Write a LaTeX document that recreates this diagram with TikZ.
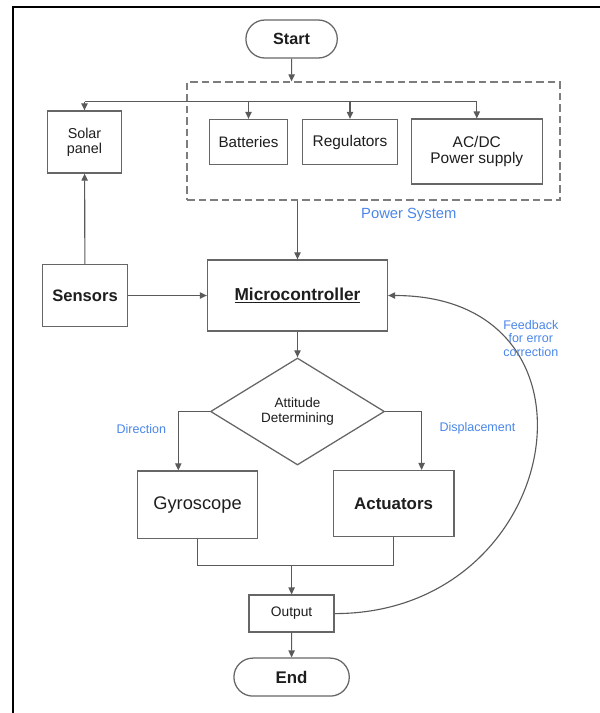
\documentclass[tikz,border=0pt]{standalone}
\usepackage{fontspec}
\setmainfont{Liberation Sans}
\usetikzlibrary{positioning}
\usetikzlibrary{arrows.meta}
\usetikzlibrary{shapes.geometric}
\usetikzlibrary{shapes.misc}

\definecolor{boxgray}{HTML}{666666}
\definecolor{linegray}{HTML}{5A5A5A}
\definecolor{labelblue}{HTML}{4A86E8}
\definecolor{textdark}{HTML}{1E1E1E}

\newcommand{\fs}[1]{\fontsize{#1}{1.05\dimexpr#1pt\relax}\selectfont}

\begin{document}
\begin{tikzpicture}[
            > = {Triangle[length=5pt,width=4.5pt]}, % arrow head style
            node distance = 2.5cm, % distance between nodes
            text = textdark
        ]

        \tikzstyle{block}=[
            draw = boxgray,
            line width = 0.9pt,
            fill = white,
            align = center,
            inner sep = 2pt
        ]
        \tikzstyle{term}=[block, rounded rectangle]
        \tikzstyle{decision}=[block, diamond, shape aspect=1.6, inner sep=0pt]
        \tikzstyle{line}=[draw = linegray, line width = 0.8pt]
        \tikzstyle{lbl}=[text = labelblue, align = center, font = \fs{8.9}]

        \useasboundingbox (0,0) rectangle (15,-17.825);

        % frame
        \draw[black, line width=1.1pt] (0.33,-17.825) -- (0.33,-0.17) -- (15,-0.17);

	% start
        \node[term, minimum width=2.425cm, minimum height=0.95cm, font=\bfseries\fs{11.5}] (S) at (7.29,-0.975) {Start};

         % power system
        \node[block, fill=none, draw=boxgray!85, line width=0.8pt, dash pattern=on 5.4pt off 2.8pt,
              minimum width=9.325cm, minimum height=2.95cm] (PW) at (9.3375,-3.525) {};
        \node[block, minimum width=1.95cm, minimum height=1.125cm, font=\fs{10.8}] (B) at (6.2125,-3.55) {Batteries};
        \node[block, minimum width=2.36cm, minimum height=1.125cm, font=\fs{11}] (R) [right of = B, node distance=2.5375cm] {Regulators};
        \node[block, minimum width=3.275cm, minimum height=1.625cm, font=\fs{11}] (AC) at (11.92,-3.79) {AC/DC\\Power supply};
        \node[lbl, font=\fs{10.5}] (PSL) at (10.22,-5.36) {Power System};

        \node[block, minimum width=1.86cm, minimum height=1.55cm, font=\fs{10.2}] (SP) at (2.1125,-3.55) {Solar\\panel};

         % control
        \node[block, minimum width=4.5cm, minimum height=1.775cm, font=\bfseries\fs{12.3}] (MC) at (7.4375,-7.3875) {\underline{Microcontroller}};
        \node[block, minimum width=2.115cm, minimum height=1.54cm, font=\bfseries\fs{11.8}] (SN) [left of = MC, node distance=5.3125cm] {Sensors};
        \node[decision, minimum width=4.35cm, minimum height=2.675cm, font=\fs{9.6}] (AD) [below of = MC, node distance=2.9cm] {Attitude\\Determining};

        \node[block, minimum width=3.01cm, minimum height=1.68cm, font=\fs{13}] (G) at (4.9375,-12.616) {Gyroscope};
        \node[block, minimum width=3.02cm, minimum height=1.65cm, font=\bfseries\fs{12}] (A) at (9.84,-12.59) {Actuators};

         % output
        \node[block, minimum width=2.125cm, minimum height=0.925cm, font=\fs{9.8}] (O) at (7.29,-15.34) {Output};
        \node[term, minimum width=3.025cm, minimum height=0.95cm, font=\bfseries\fs{12}] (E) [below of = O, node distance=1.5875cm] {End};

        % connectors
        \path[->] (S) edge[line] (S |- PW.north);

        \coordinate (BUS) at (2.1125,-2.5425);
        \draw[line] (SP.north |- BUS) -- (AC.north |- BUS);
        \draw[line,->] (SP.north |- BUS) -- (SP.north);
        \draw[line,->] (B.north |- BUS) -- (B.north);
        \draw[line,->] (R.north |- BUS) -- (R.north);
        \draw[line,->] (AC.north |- BUS) -- (AC.north);

        \path[->] (PW.south -| MC.north) edge[line] (MC.north);
        \path[->] (SN) edge[line] (SP);
        \path[->] (SN) edge[line] (MC);
        \path[->] (MC) edge[line] (AD);

        \draw[line,->] (AD.west) -| ([xshift=-0.48cm]G.north) node[lbl, pos=0.645, left=5pt] {Direction};
        \draw[line,->] (AD.east) -| ([xshift=0.7cm]A.north) node[lbl, pos=0.645, right=9pt] {Displacement};

        \coordinate (J) at ([yshift=0.73cm]O.north);
        \draw[line] (G.south) |- (J) -| (A.south);
        \path[->] (J) edge[line] (O);
        \path[->] (O) edge[line] (E);

         % feedback
        \draw[line,->] (O.east) .. controls +(5.75,0) and +(5.75,0) .. (MC.east);
        \node[lbl, font=\fs{8.9}] (FB) at (13.27,-8.46) {Feedback\\for error\\correction};

\end{tikzpicture}
\end{document}
